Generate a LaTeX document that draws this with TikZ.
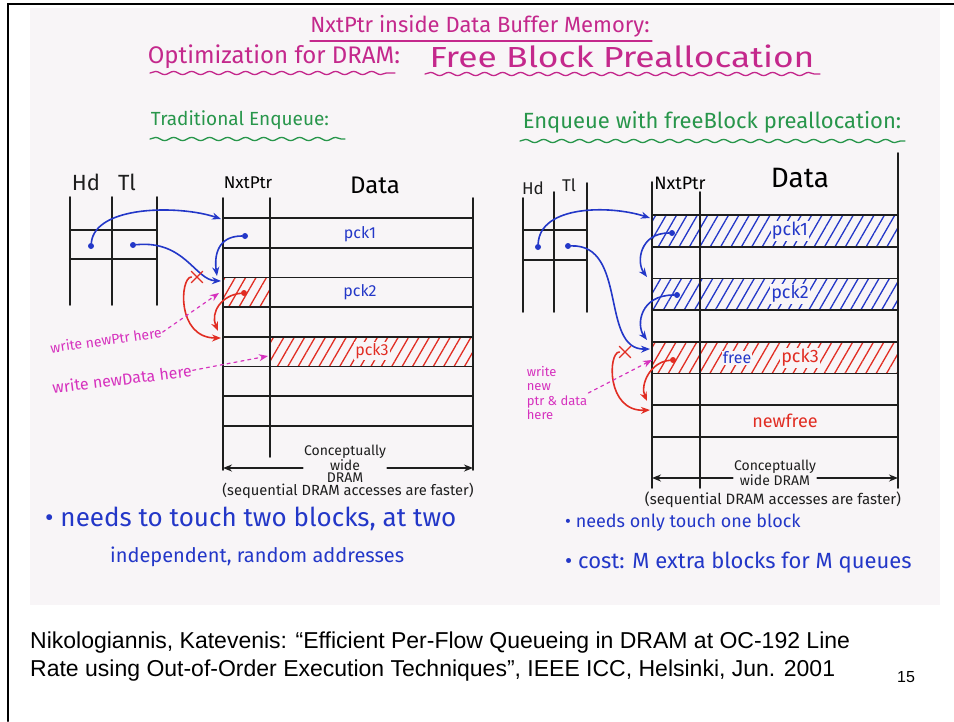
\documentclass[tikz,border=0pt]{standalone}
\usepackage{fontspec}
\usepackage{xcolor}
\usepackage{tikz}
\usetikzlibrary{arrows.meta,patterns.meta,decorations.pathmorphing,shapes.misc}
\setmainfont{Liberation Sans}
\newfontfamily\hand{Fira Sans}

\definecolor{inkmag}{RGB}{196,40,140}
\definecolor{inkpink}{RGB}{214,50,190}
\definecolor{inkgreen}{RGB}{40,150,75}
\definecolor{inkblue}{RGB}{35,55,200}
\definecolor{inkred}{RGB}{225,45,35}
\definecolor{ink}{RGB}{30,30,30}
\definecolor{scan}{RGB}{248,245,247}

\newcommand{\hw}[1]{\hand\fontsize{#1}{#1}\selectfont}

\begin{document}
\begin{tikzpicture}[x=1pt, y=-1pt, >={Stealth[length=9pt,width=7pt]}, line cap=round,
  gridline/.style={draw=ink, line width=1.6pt},
  ptr/.style={->, draw=inkblue, line width=1.6pt},
  newptr/.style={->, draw=inkred, line width=1.6pt},
  note/.style={->, draw=inkpink, line width=1.2pt, dash pattern=on 3pt off 4pt},
  dot/.style={circle, fill=inkblue, inner sep=0pt, minimum size=6pt},
  rdot/.style={dot, fill=inkred},
  xmark/.style={cross out, draw=inkred, line width=1.2pt, inner sep=0pt, minimum size=10pt},
  bluehatch/.style={pattern={Lines[angle=60,distance=9pt,line width=1.3pt]}, pattern color=inkblue},
  redhatch/.style={pattern={Lines[angle=60,distance=9pt,line width=1.3pt]}, pattern color=inkred},
  wavy/.style={decorate, decoration={snake, segment length=18pt, amplitude=1.6pt}},
  pck/.style={font=\hw{16}, text=inkblue, fill=scan, inner sep=1pt},
  head/.style={font=\hw{22}, text=ink},
  note text/.style={font=\hand\fontsize{14}{13}\selectfont, text=inkpink, inner sep=1pt},
  dramtext/.style={font=\hand\fontsize{14}{12.5}\selectfont, text=ink, align=center, inner sep=1pt},
  bullet/.style={text=inkblue, anchor=west, inner sep=0pt}]

  \useasboundingbox (0,0) rectangle (954,721);
  \fill[white] (0,0) rectangle (954,721);
  \fill[scan] (30,8) rectangle (940,605);
  \draw[line width=2pt] (8,721) -- (8,4) -- (954,4);

  % titles
  \node[font=\hw{22}, text=inkmag] (t1) at (480,26) {NxtPtr inside Data Buffer Memory:};
  \draw[inkmag, line width=1.3pt] (310,41) -- (652,41);
  \node[font=\hw{24}, text=inkmag] (t2a) at (274,57) {Optimization for DRAM:};
  \node[font=\hw{29}, text=inkmag, xscale=1.22] (t2b) at (622,56) {Free Block Preallocation};
  \draw[inkmag, line width=1.3pt, wavy] (150,73) -- (395,73);
  \draw[inkmag, line width=1.3pt, wavy] (425,74) -- (820,74);
  \node[font=\hw{19}, text=inkgreen] (trad) at (240,120) {Traditional Enqueue:};
  \draw[inkgreen, line width=1.3pt, wavy] (150,139) -- (345,139);
  \node[font=\hw{22}, text=inkgreen] (pre) at (712,122) {Enqueue with freeBlock preallocation:};
  \draw[inkgreen, line width=1.3pt, wavy] (520,141) -- (905,141);

  % traditional enqueue
  \fill[redhatch] (223,277.4) rectangle (270,307.1);
  \fill[redhatch] (270,336.8) rectangle (473,366.5);
  \foreach \k in {0,...,7}
    \draw[gridline] (223,{218+29.7*\k}) -- (473,{218+29.7*\k});
  \draw[gridline] (223,198) -- (223,470) (270,198) -- (270,457) (473,198) -- (473,470);
  \draw[gridline] (70,197) -- (70,305) (112,197) -- (112,305) (157,197) -- (157,305)
    (70,230) -- (157,230) (70,259) -- (157,259);
  \node[head] (hdL) at (86,182) {Hd};
  \node[head] (tlL) at (127,182) {Tl};
  \node[font=\hw{17}] (nxL) at (248,183) {NxtPtr};
  \node[font=\hw{24}] (dataL) at (375,185) {Data};
  \node[pck] (pck1L) at (360,234) {pck1};
  \node[pck] (pck2L) at (360,292) {pck2};
  \node[pck, text=inkred] (pck3L) at (372,351) {pck3};

  \node[dot] (hdptrL) at (91,246) {};
  \node[dot] (tlptrL) at (133,245) {};
  \node[dot] (nx1L) at (245,236) {};
  \node[rdot] (nx2L) at (244,293) {};
  \coordinate (Lhead) at (221,219);
  \coordinate (Ltail) at (221,281);
  \coordinate (Lrow2) at (217,276);
  \coordinate (Lrow4a) at (218,331);
  \coordinate (Lrow4b) at (221,338);
  \coordinate (Lcell) at (219,293);
  \coordinate (Ldata) at (268,356);

  \draw[ptr] (hdptrL) .. controls (95,205) and (180,205) .. (Lhead);
  \draw[ptr] (tlptrL) .. controls (185,240) and (195,280) .. (Ltail);
  \draw[ptr] (nx1L) .. controls (218,236) and (214,255) .. (Lrow2);
  \node[xmark] (xL) at (197,277) {};
  \draw[newptr] (xL.west) .. controls (180,277) and (176,338) .. (Lrow4b);
  \draw[newptr] (nx2L) .. controls (222,295) and (210,312) .. (Lrow4a);

  \node[note text, rotate=8] (wpL) at (106,340) {write newPtr here};
  \node[note text, font=\hw{16}, rotate=7] (wdL) at (122,379) {write newData here};
  \draw[note] (wpL.east) -- (Lcell);
  \draw[note] (wdL.east) -- (Ldata);

  \node[dramtext] (cwL) at (345,464) {Conceptually\\wide\\DRAM};
  \coordinate (cwLa) at (223,468);
  \coordinate (cwLb) at (473,468);
  \draw[gridline, ->] (cwL.west |- cwLa) -- (cwLa);
  \draw[gridline, ->] (cwL.east |- cwLb) -- (cwLb);
  \node[dramtext, font=\hw{14.7}] (seqL) at (348,491) {(sequential DRAM accesses are faster)};

  % enqueue with preallocation
  \fill[bluehatch] (652,215) rectangle (898,246.7);
  \fill[bluehatch] (652,278.4) rectangle (898,310.1);
  \fill[redhatch] (652,341.8) rectangle (898,373.5);
  \foreach \k in {0,...,7}
    \draw[gridline] (652,{215+31.7*\k}) -- (898,{215+31.7*\k});
  \draw[gridline] (652,182) -- (652,488) (700,192) -- (700,488) (898,153) -- (898,488);
  \draw[gridline] (523,198) -- (523,312) (554,192) -- (554,312) (587,183) -- (587,312)
    (523,230) -- (587,230) (523,260) -- (587,260);
  \node[head, font=\hw{17}] (hdR) at (533,188) {Hd};
  \node[head, font=\hw{17}] (tlR) at (569,185) {Tl};
  \node[font=\hw{18}] (nxR) at (680,183) {NxtPtr};
  \node[font=\hw{28}] (dataR) at (800,178) {Data};
  \node[pck, font=\hw{18}] (pck1R) at (790,231) {pck1};
  \node[pck, font=\hw{18}] (pck2R) at (790,294) {pck2};
  \node[pck] (freeR) at (737,358) {free};
  \node[pck, font=\hw{18}, text=inkred] (pck3R) at (800,358) {pck3};
  \node[pck, font=\hw{18}, text=inkred] (newfreeR) at (785,421) {newfree};

  \node[dot] (hdptrR) at (538,247) {};
  \node[dot] (tlptrR) at (568,246) {};
  \node[dot] (nx1R) at (672,233) {};
  \node[dot] (nx2R) at (677,295) {};
  \node[rdot] (nx3R) at (673,360) {};
  \coordinate (Rhead) at (650,218);
  \coordinate (Rtail) at (650,349);
  \coordinate (Rrow2) at (647,277);
  \coordinate (Rrow4) at (647,340);
  \coordinate (Rrow6a) at (647,401);
  \coordinate (Rrow6b) at (650,410);
  \coordinate (Rcell) at (652,360);

  \draw[ptr] (hdptrR) .. controls (540,205) and (610,205) .. (Rhead);
  \draw[ptr] (tlptrR) .. controls (628,244) and (600,350) .. (Rtail);
  \draw[ptr] (nx1R) .. controls (640,233) and (636,262) .. (Rrow2);
  \draw[ptr] (nx2R) .. controls (640,295) and (636,325) .. (Rrow4);
  \node[xmark] (xR) at (625,352) {};
  \draw[newptr] (xR.west) .. controls (608,352) and (606,412) .. (Rrow6b);
  \draw[newptr] (nx3R) .. controls (650,362) and (640,385) .. (Rrow6a);

  \node[note text, font=\hand\fontsize{13}{14.5}\selectfont, align=left] (wnR) at (557,393) {write\\new\\ptr \& data\\here};
  \draw[note] (wnR.east) -- (Rcell);

  \node[dramtext] (cwR) at (775,473) {Conceptually\\wide DRAM};
  \coordinate (cwRa) at (652,478);
  \coordinate (cwRb) at (898,478);
  \draw[gridline, ->] (cwR.west |- cwRa) -- (cwRa);
  \draw[gridline, ->] (cwR.east |- cwRb) -- (cwRb);
  \node[dramtext, font=\hw{15}] (seqR) at (773,500) {(sequential DRAM accesses are faster)};

  % remarks
  \node[bullet, font=\hw{26}] (b1) at (45,519) {• needs to touch two blocks, at two};
  \node[bullet, font=\hw{20}] (b2) at (110,557) {independent, random addresses};
  \node[bullet, font=\hw{18}] (b3) at (565,523) {• needs only touch one block};
  \node[bullet, font=\hw{22}] (b4) at (565,563) {• cost: M extra blocks for M queues};

  \node[anchor=west, inner sep=0pt, font=\fontsize{23}{27}\selectfont] (ref1) at (30,643)
    {Nikologiannis, Katevenis: “Efficient Per-Flow Queueing in DRAM at OC-192 Line};
  \node[anchor=west, inner sep=0pt, font=\fontsize{23}{27}\selectfont] (ref2) at (30,671)
    {Rate using Out-of-Order Execution Techniques”, IEEE ICC, Helsinki, Jun. 2001};
  \node[font=\fontsize{16}{18}\selectfont] (pg) at (906,677) {15};
\end{tikzpicture}
\end{document}
